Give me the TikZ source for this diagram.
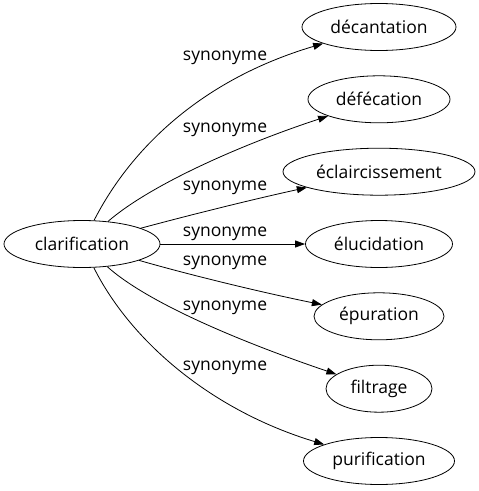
\documentclass[tikz,border=0pt]{standalone}
\usepackage{fontspec}
\setmainfont{Open Sans}
\usetikzlibrary{shapes.geometric,arrows.meta}
\begin{document}
\begin{tikzpicture}[x=1pt,y=-1pt,
  word/.style={draw, ellipse, inner sep=0pt, minimum height=47pt, line width=0.8pt, font=\fontsize{17.5}{20}\selectfont},
  rel/.style={font=\fontsize{17.5}{20}\selectfont, inner sep=0pt},
  link/.style={line width=0.8pt, -{Triangle[length=10pt,width=7pt]}}]
\useasboundingbox (0,0) rectangle (479,491);
\node[word, minimum width=156pt] (clar) at (82,244) {clarification};
\node[word, minimum width=154pt] (dec) at (379,27) {décantation};
\node[word, minimum width=142pt] (def) at (379,99.3) {défécation};
\node[word, minimum width=192pt] (ecl) at (379,171.7) {éclaircissement};
\node[word, minimum width=147pt] (elu) at (379,244) {élucidation};
\node[word, minimum width=130pt] (epu) at (379,316.3) {épuration};
\node[word, minimum width=106pt] (fil) at (379,388.7) {filtrage};
\node[word, minimum width=151pt] (pur) at (379,461) {purification};
\node[rel] (l1) at (225,58) {synonyme};
\node[rel] (l2) at (225,130) {synonyme};
\node[rel] (l3) at (225,188) {synonyme};
\node[rel] (l4) at (225,234) {synonyme};
\node[rel] (l5) at (225,263) {synonyme};
\node[rel] (l6) at (225,308) {synonyme};
\node[rel] (l7) at (225,368) {synonyme};
\draw[link] (clar) .. controls (130,150) and (200,80) .. (dec);
\draw[link] (clar) .. controls (150,185) and (240,145) .. (def);
\draw[link] (clar) .. controls (190,215) and (250,200) .. (ecl);
\draw[link] (clar) -- (elu);
\draw[link] (clar) .. controls (190,275) and (260,292) .. (epu);
\draw[link] (clar) .. controls (150,305) and (250,345) .. (fil);
\draw[link] (clar) .. controls (130,340) and (210,410) .. (pur);
\end{tikzpicture}
\end{document}
